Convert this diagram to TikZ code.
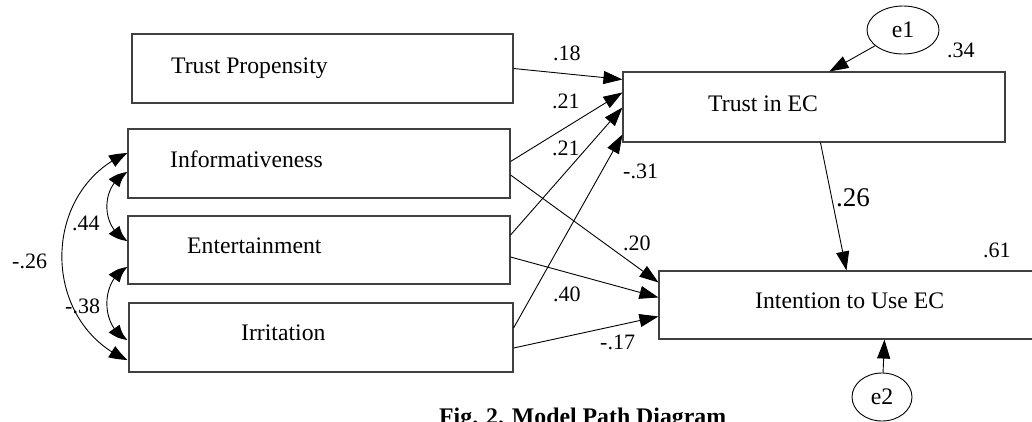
\documentclass[tikz,border=0pt]{standalone}
\usepackage{fontspec}
\setmainfont{Liberation Serif}
\usetikzlibrary{arrows.meta,bending,calc,shapes.geometric}
\begin{document}
\begin{tikzpicture}[x=1pt,y=-1pt,
  box/.style={draw=black!75,line width=1.1pt,rectangle,inner sep=0pt},
  err/.style={draw=black,line width=0.9pt,ellipse,inner sep=0pt},
  lbl/.style={anchor=base west,inner sep=0pt,font=\fontsize{23.7}{28}\selectfont},
  num/.style={anchor=base west,inner sep=0pt,font=\fontsize{22}{26}\selectfont},
  path/.style={draw=black,line width=0.9pt,-{Triangle[length=19pt,width=13pt]}},
  cov/.style={draw=black,line width=0.9pt,{Triangle[length=18pt,width=13pt,bend]}-{Triangle[length=18pt,width=13pt,bend]}}
]
\useasboundingbox (0,0) rectangle (1032,421);
\clip (0,0) rectangle (1032,421);
\fill[white] (0,0) rectangle (1032,421);

% boxes
\node[box,minimum width=381pt,minimum height=69pt] (tp) at (322.5,68.5) {};
\node[box,minimum width=382pt,minimum height=69pt] (inf) at (319,163.5) {};
\node[box,minimum width=382pt,minimum height=68pt] (ent) at (319,250) {};
\node[box,minimum width=384pt,minimum height=69pt] (irr) at (321,337.5) {};
\node[box,minimum width=382pt,minimum height=70pt] (tie) at (814,107) {};
\node[box,minimum width=382pt,minimum height=68pt] (int) at (850,305) {};
\node[err,minimum width=72pt,minimum height=48pt] (e1) at (903,30) {};
\node[err,minimum width=60pt,minimum height=48pt] (e2) at (882,397) {};

% texts
\node[lbl] (ttp) at (171,73) {Trust Propensity};
\node[lbl] (tinf) at (170,167) {Informativeness};
\node[lbl] (tent) at (187,253) {Entertainment};
\node[lbl] (tirr) at (241,340) {Irritation};
\node[lbl] (ttie) at (708,111) {Trust in EC};
\node[lbl] (tint) at (755,308) {Intention to Use EC};
\node[lbl,anchor=center] (te1) at (e1.center) {e1};
\node[lbl,anchor=center] (te2) at (e2.center) {e2};

% endpoints
\coordinate (a1) at ($(tie.north west)+(0,8)$);
\coordinate (a2) at ($(tie.north west)+(0,21)$);
\coordinate (a3) at ($(tie.north west)+(0,36)$);
\coordinate (a4) at ($(tie.north west)+(0,63)$);
\coordinate (b1) at ($(int.north west)+(0,12)$);
\coordinate (b2) at ($(int.north west)+(0,27)$);
\coordinate (b3) at ($(int.north west)+(0,46)$);
\coordinate (s1) at ($(inf.east)+(0,-2)$);
\coordinate (s2) at ($(inf.east)+(0,11.5)$);
\coordinate (s3) at ($(ent.east)+(0,-15)$);
\coordinate (s4) at ($(ent.east)+(0,7)$);
\coordinate (s5) at ($(irr.east)+(0,-9.5)$);
\coordinate (s6) at ($(irr.east)+(0,10.5)$);
\coordinate (tb) at ($(tie.south west)+(198,0)$);
\coordinate (it) at ($(int.north west)+(188,0)$);
\coordinate (tt) at ($(tie.north west)+(207,0)$);
\coordinate (ib) at ($(int.south west)+(226,0)$);

% paths
\draw[path] (tp.east) -- (a1);
\draw[path] (s1) -- (a2);
\draw[path] (s3) -- (a3);
\draw[path] (s5) -- (a4);
\draw[path] (s2) -- (b1);
\draw[path] (s4) -- (b2);
\draw[path] (s6) -- (b3);
\draw[path] (tb) -- (it);
\draw[path] (e1) -- (tt);
\draw[path] (e2) -- (ib);

% covariances
\coordinate (c1) at ($(inf.west)+(0,8.5)$);
\coordinate (c2) at ($(ent.west)+(0,-9)$);
\coordinate (c3) at ($(ent.west)+(0,17)$);
\coordinate (c4) at ($(irr.west)+(-1,2.5)$);
\coordinate (c5) at ($(inf.west)+(0,-10.5)$);
\coordinate (c6) at ($(irr.west)+(-1,22.5)$);
\draw[cov] (c1) .. controls (100,185) and (100,228) .. (c2);
\draw[cov] (c3) .. controls (100,280) and (100,327) .. (c4);
\draw[cov] (c5) .. controls (40,190) and (40,323) .. (c6);

% coefficients
\node[num] (n18) at (553,60) {.18};
\node[num] (n21a) at (552,108) {.21};
\node[num] (n21b) at (552,155) {.21};
\node[num] (n31) at (623,178) {-.31};
\node[num] (n20) at (623,250) {.20};
\node[num] (n40) at (553,301) {.40};
\node[num] (n17) at (600,349) {-.17};
\node[num] (n34) at (947,57) {.34};
\node[num] (n61) at (983,257) {.61};
\node[num,font=\fontsize{27}{30}\selectfont] (n26) at (836,206) {.26};
\node[num] (n44) at (72,230) {.44};
\node[num] (n26b) at (12,268) {-.26};
\node[num] (n38) at (65,313) {-.38};

% caption
\node[anchor=base west,inner sep=0pt,font=\fontsize{23.8}{28}\selectfont\bfseries] (cap) at (439,424) {Fig. 2. Model Path Diagram};
\end{tikzpicture}
\end{document}
